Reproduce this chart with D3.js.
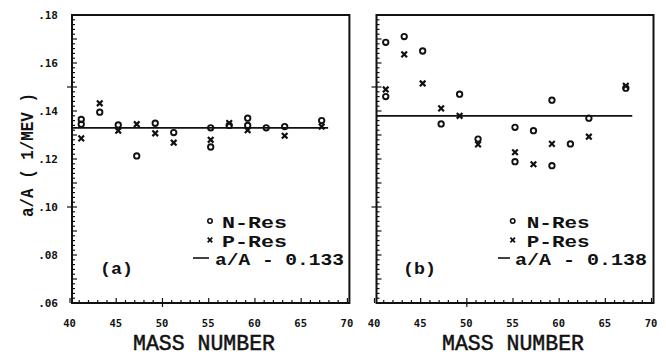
<!DOCTYPE html>
<html><head><meta charset="utf-8">
<script src="https://cdn.jsdelivr.net/npm/d3@7"></script>
<style>
html,body{margin:0;padding:0;background:#fff;}
svg{display:block;}
</style></head>
<body>
<script>
// ---- data ----
const xTicks = [40,45,50,55,60,65,70];
const yTicks = [0.06,0.08,0.10,0.12,0.14,0.16,0.18];
const legendLabels = ["N-Res","P-Res"];
const panelLabels = ["(a)","(b)"];
const xTitle = "MASS NUMBER";
const yTitle = "a/A ( 1/MEV )";

// panel (a)
const nResA = [[41,0.1365],[41,0.1345],[43,0.1395],[45,0.1342],[47,0.1213],[49,0.1349],[51,0.131],
               [55,0.133],[55,0.125],[57,0.134],[59,0.137],[59,0.134],[61,0.133],[63,0.1335],[67,0.136]];
const pResA = [[41,0.1286],[43,0.1432],[45,0.1318],[47,0.1345],[49,0.1307],[51,0.1268],
               [55,0.128],[57,0.135],[59,0.132],[63,0.1297],[67,0.1335]];
const fitA = 0.133;
// panel (b)
const nResB = [[41,0.1686],[41,0.146],[43,0.171],[45,0.165],[47,0.1346],[49,0.147],[51,0.1283],
               [55,0.1332],[55,0.1189],[57,0.1318],[59,0.1445],[59,0.1172],[61,0.1263],[63,0.137],[67,0.1495]];
const pResB = [[41,0.149],[43,0.1636],[45,0.1515],[47,0.1411],[49,0.138],[51,0.1261],
               [55,0.1228],[57,0.1178],[59,0.1263],[63,0.1293],[67,0.1505]];
const fitB = 0.138;
const fitRange = [40, 67.7];

// ---- layout ----
const W = 666, H = 356;
const plotTop = 15, plotBottom = 303;
const ink = "#111";
const mono = "'Liberation Mono','DejaVu Sans Mono',monospace";

const svg = d3.select("body").append("svg").attr("width", W).attr("height", H);

const yScale = d3.scaleLinear().domain([0.06, 0.18]).range([plotBottom, plotTop]);

function crossPath(s){ return `M${-s},${-s}L${s},${s}M${-s},${s}L${s},${-s}`; }

function drawPanel(cfg){
  const x = d3.scaleLinear().domain([40,70]).range([cfg.x0, cfg.x1]);
  const g = svg.append("g");

  // minor y ticks (inside)
  const yMinor = d3.range(0, 61).map(i => 0.06 + i*0.002);
  g.selectAll(".ym").data(yMinor).join("line")
    .attr("x1", d => {
      const k = Math.round(d*1000);
      return (k % 50 === 0) ? cfg.x0 - 5 : cfg.x0;
    })
    .attr("x2", d => {
      const k = Math.round(d*1000);
      return cfg.x0 + ((k % 10 === 0) ? 5 : 3);
    })
    .attr("y1", d => yScale(d)).attr("y2", d => yScale(d))
    .attr("stroke", ink).attr("stroke-width", 1.2);

  // minor x ticks (inside)
  const xMinor = d3.range(40, 71);
  g.selectAll(".xm").data(xMinor).join("line")
    .attr("x1", d => x(d) - 2).attr("x2", d => x(d) - 2)
    .attr("y1", d => d === 50 ? plotBottom + 4 : plotBottom)
    .attr("y2", d => plotBottom - (d % 5 === 0 ? 5 : 3))
    .attr("stroke", ink).attr("stroke-width", 1.2);

  // frame
  g.append("rect").attr("x", cfg.x0).attr("y", plotTop)
    .attr("width", cfg.x1 - cfg.x0).attr("height", plotBottom - plotTop)
    .attr("fill", "none").attr("stroke", ink).attr("stroke-width", 2);

  // x tick labels
  g.selectAll(".xl").data(xTicks).join("text")
    .attr("x", d => x(d) - 2.5).attr("y", 327)
    .attr("text-anchor", "middle")
    .attr("font-family", "'DejaVu Sans Mono',monospace").attr("font-weight", "bold")
    .attr("font-size", 10.5).attr("fill", ink)
    .text(d => d);

  // y tick labels
  if (cfg.yLabels){
    g.selectAll(".yl").data(yTicks).join("text")
      .attr("x", 58).attr("y", d => yScale(d)).attr("dy", "0.36em")
      .attr("text-anchor", "end")
      .attr("font-family", "'DejaVu Sans Mono',monospace").attr("font-weight", "bold")
      .attr("font-size", 11).attr("fill", ink)
      .text(d => d3.format(".2f")(d).replace(/^0/, ""));
  }

  // fit line
  g.append("line")
    .attr("x1", x(fitRange[0])).attr("x2", x(fitRange[1]))
    .attr("y1", yScale(cfg.fit)).attr("y2", yScale(cfg.fit))
    .attr("stroke", ink).attr("stroke-width", 1.8);

  // N-Res circles
  g.selectAll(".n").data(cfg.nRes).join("circle")
    .attr("cx", d => x(d[0])).attr("cy", d => yScale(d[1])).attr("r", 2.7)
    .attr("fill", "none").attr("stroke", ink).attr("stroke-width", 1.9);
  // P-Res crosses
  g.selectAll(".p").data(cfg.pRes).join("path")
    .attr("transform", d => `translate(${x(d[0])},${yScale(d[1])})`)
    .attr("d", crossPath(2.8))
    .attr("fill", "none").attr("stroke", ink).attr("stroke-width", 2.2);

  // legend
  const L = cfg.legend;
  g.append("circle").attr("cx", L.mx).attr("cy", 221).attr("r", 2.2)
    .attr("fill", "none").attr("stroke", ink).attr("stroke-width", 1.6);
  g.append("path").attr("transform", `translate(${L.mx},240)`).attr("d", crossPath(2.3))
    .attr("stroke", ink).attr("stroke-width", 1.8);
  g.append("line").attr("x1", L.lx0).attr("x2", L.lx1).attr("y1", 258).attr("y2", 258)
    .attr("stroke", ink).attr("stroke-width", 1.6);
  const legTexts = [
    {t: legendLabels[0], x: L.tx, y: 228, len: L.len},
    {t: legendLabels[1], x: L.tx, y: 247, len: L.len},
    {t: `a/A - ${d3.format(".3f")(cfg.fit)}`, x: L.fx, y: 265, len: L.flen}
  ];
  g.selectAll(".lt").data(legTexts).join("text")
    .attr("x", d => d.x).attr("y", d => d.y)
    .attr("textLength", d => d.len).attr("lengthAdjust", "spacingAndGlyphs")
    .attr("font-family", mono).attr("font-weight", "bold").attr("font-size", 16.5)
    .attr("fill", ink).text(d => d.t);

  // panel label
  g.append("text").attr("x", cfg.labelX).attr("y", 274)
    .attr("textLength", 33).attr("lengthAdjust", "spacingAndGlyphs")
    .attr("font-family", mono).attr("font-weight", "bold").attr("font-size", 17)
    .attr("fill", ink).text(cfg.label);

  // x title
  g.append("text").attr("x", cfg.titleX).attr("y", 350)
    .attr("text-anchor", "middle")
    .attr("textLength", 142).attr("lengthAdjust", "spacingAndGlyphs")
    .attr("font-family", mono).attr("font-size", 22)
    .attr("fill", ink).attr("stroke", ink).attr("stroke-width", 0.5)
    .text(xTitle);
}

drawPanel({x0: 72, x1: 349.4, nRes: nResA, pRes: pResA, fit: fitA, yLabels: true,
  legend: {mx: 210, lx0: 193, lx1: 209, tx: 222, len: 65, fx: 215, flen: 129},
  label: panelLabels[0], labelX: 100, titleX: 204});
drawPanel({x0: 376.5, x1: 653.5, nRes: nResB, pRes: pResB, fit: fitB, yLabels: false,
  legend: {mx: 512.7, lx0: 498, lx1: 510, tx: 526.7, len: 63, fx: 515, flen: 132},
  label: panelLabels[1], labelX: 403, titleX: 513});

// y title
svg.append("text")
  .attr("transform", "translate(33,155) rotate(-90)")
  .attr("text-anchor", "middle")
  .attr("textLength", 124).attr("lengthAdjust", "spacingAndGlyphs")
  .attr("font-family", mono).attr("font-weight", "bold").attr("font-size", 18)
  .attr("fill", ink).text(yTitle);
</script>
</body></html>
